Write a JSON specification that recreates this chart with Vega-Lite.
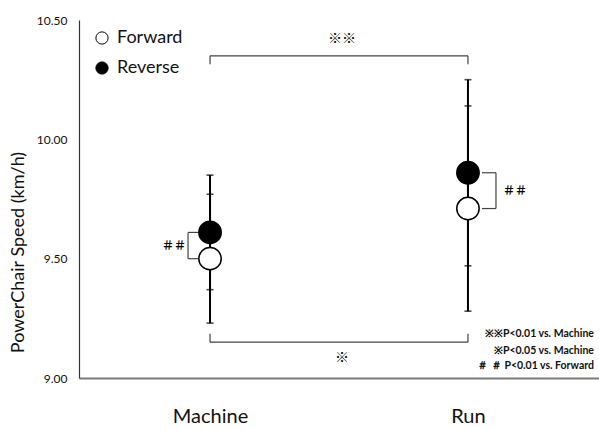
{
  "$schema": "https://vega.github.io/schema/vega-lite/v6.json",
  "width": 520,
  "height": 358,
  "padding": {"left": 79, "top": 20, "right": 0, "bottom": 52},
  "autosize": {"type": "none"},
  "background": "white",
  "config": {"view": {"stroke": null}, "font": "Lato"},
  "datasets": {
    "stats": [
      {"group": "Machine", "series": "Forward", "mean": 9.50, "lo": 9.23, "hi": 9.77},
      {"group": "Machine", "series": "Reverse", "mean": 9.61, "lo": 9.37, "hi": 9.85},
      {"group": "Run", "series": "Forward", "mean": 9.71, "lo": 9.28, "hi": 10.14},
      {"group": "Run", "series": "Reverse", "mean": 9.86, "lo": 9.47, "hi": 10.25}
    ],
    "spans": [
      {"from": "Machine", "to": "Run", "y": 10.35, "tip": 10.315},
      {"from": "Machine", "to": "Run", "y": 9.15, "tip": 9.185}
    ],
    "pairs": [
      {"group": "Machine", "top": 9.61, "bottom": 9.50},
      {"group": "Run", "top": 9.86, "bottom": 9.71}
    ],
    "marks": [
      {"group": "Machine", "y": 10.42, "label": "※※"},
      {"group": "Machine", "y": 9.084, "label": "※"}
    ],
    "sharps": [
      {"group": "Machine", "y": 9.555, "label": "＃＃"},
      {"group": "Run", "y": 9.785, "label": "＃＃"}
    ],
    "notes": [
      {"group": "Run", "y": 9.185, "label": "※※P<0.01 vs. Machine"},
      {"group": "Run", "y": 9.113, "label": "※P<0.05 vs. Machine"},
      {"group": "Run", "y": 9.05, "label": "＃ ＃ P<0.01 vs. Forward"}
    ]
  },
  "encoding": {
    "x": {
      "field": "group", "type": "nominal",
      "scale": {"type": "point", "domain": ["Machine", "Run"], "padding": 0.508},
      "axis": {
        "title": null, "labelAngle": 0, "ticks": false, "labelPadding": 28,
        "labelFontSize": 20, "labelColor": "#111", "labelFont": "Lato",
        "domainColor": "#7a7a7a", "domainWidth": 2
      }
    }
  },
  "layer": [
    {
      "data": {"name": "stats"},
      "mark": {"type": "rule", "color": "black", "strokeWidth": 2},
      "encoding": {
        "y": {
          "field": "lo", "type": "quantitative",
          "scale": {"domain": [9, 10.5], "nice": false, "zero": false},
          "axis": {
            "title": "PowerChair Speed (km/h)", "values": [9, 9.5, 10, 10.5], "format": ".2f",
            "ticks": false, "grid": false, "labelFontSize": 12, "labelColor": "#111",
            "labelPadding": 12, "titleFontSize": 18, "titleFontWeight": "normal",
            "titleColor": "#111", "titleFont": "Lato",
            "titleAngle": 270, "titleX": -61, "titleY": 232, "titleAlign": "center", "titleBaseline": "middle",
            "domainColor": "#333", "domainWidth": 1.2
          }
        },
        "y2": {"field": "hi"}
      }
    },
    {
      "data": {"name": "stats"},
      "mark": {"type": "tick", "color": "black", "size": 7, "thickness": 1.6},
      "encoding": {"y": {"field": "lo", "type": "quantitative"}}
    },
    {
      "data": {"name": "stats"},
      "mark": {"type": "tick", "color": "black", "size": 7, "thickness": 1.6},
      "encoding": {"y": {"field": "hi", "type": "quantitative"}}
    },
    {
      "data": {"name": "stats"},
      "mark": {"type": "point", "shape": "circle", "filled": true, "size": 500, "stroke": "black", "strokeWidth": 1.5, "opacity": 1},
      "encoding": {
        "y": {"field": "mean", "type": "quantitative"},
        "fill": {
          "field": "series", "type": "nominal",
          "scale": {"domain": ["Forward", "Reverse"], "range": ["white", "black"]},
          "legend": {
            "title": null, "orient": "none", "legendX": 14, "legendY": 9,
            "labelFontSize": 18, "labelFont": "Lato", "labelColor": "#111",
            "symbolType": "circle", "symbolSize": 150, "symbolStrokeColor": "black",
            "symbolStrokeWidth": 1, "rowPadding": 12, "labelOffset": 6
          }
        }
      }
    },
    {
      "data": {"name": "spans"},
      "mark": {"type": "rule", "color": "#444", "strokeWidth": 1.2},
      "encoding": {
        "x": {"field": "from", "type": "nominal"},
        "x2": {"field": "to"},
        "y": {"field": "y", "type": "quantitative"}
      }
    },
    {
      "data": {"name": "spans"},
      "mark": {"type": "rule", "color": "#444", "strokeWidth": 1.2},
      "encoding": {
        "x": {"field": "from", "type": "nominal"},
        "y": {"field": "y", "type": "quantitative"},
        "y2": {"field": "tip"}
      }
    },
    {
      "data": {"name": "spans"},
      "mark": {"type": "rule", "color": "#444", "strokeWidth": 1.2},
      "encoding": {
        "x": {"field": "to", "type": "nominal"},
        "y": {"field": "y", "type": "quantitative"},
        "y2": {"field": "tip"}
      }
    },
    {
      "data": {"name": "pairs"},
      "transform": [{"filter": "datum.group == 'Machine'"}],
      "mark": {"type": "rule", "color": "#444", "strokeWidth": 1.2, "xOffset": -22},
      "encoding": {
        "y": {"field": "top", "type": "quantitative"},
        "y2": {"field": "bottom"}
      }
    },
    {
      "data": {"name": "pairs"},
      "transform": [{"filter": "datum.group == 'Machine'"}],
      "mark": {"type": "rule", "color": "#444", "strokeWidth": 1.2, "xOffset": -22, "x2Offset": -12},
      "encoding": {
        "x2": {"field": "group"},
        "y": {"field": "top", "type": "quantitative"}
      }
    },
    {
      "data": {"name": "pairs"},
      "transform": [{"filter": "datum.group == 'Machine'"}],
      "mark": {"type": "rule", "color": "#444", "strokeWidth": 1.2, "xOffset": -22, "x2Offset": -12},
      "encoding": {
        "x2": {"field": "group"},
        "y": {"field": "bottom", "type": "quantitative"}
      }
    },
    {
      "data": {"name": "pairs"},
      "transform": [{"filter": "datum.group == 'Run'"}],
      "mark": {"type": "rule", "color": "#444", "strokeWidth": 1.2, "xOffset": 28},
      "encoding": {
        "y": {"field": "top", "type": "quantitative"},
        "y2": {"field": "bottom"}
      }
    },
    {
      "data": {"name": "pairs"},
      "transform": [{"filter": "datum.group == 'Run'"}],
      "mark": {"type": "rule", "color": "#444", "strokeWidth": 1.2, "xOffset": 14, "x2Offset": 28},
      "encoding": {
        "x2": {"field": "group"},
        "y": {"field": "top", "type": "quantitative"}
      }
    },
    {
      "data": {"name": "pairs"},
      "transform": [{"filter": "datum.group == 'Run'"}],
      "mark": {"type": "rule", "color": "#444", "strokeWidth": 1.2, "xOffset": 14, "x2Offset": 28},
      "encoding": {
        "x2": {"field": "group"},
        "y": {"field": "bottom", "type": "quantitative"}
      }
    },
    {
      "data": {"name": "marks"},
      "mark": {"type": "text", "font": "Noto Sans CJK JP", "fontSize": 14, "fontWeight": "bold", "color": "black", "xOffset": 132, "baseline": "middle"},
      "encoding": {
        "y": {"field": "y", "type": "quantitative"},
        "text": {"field": "label"}
      }
    },
    {
      "data": {"name": "sharps"},
      "transform": [{"filter": "datum.group == 'Machine'"}],
      "mark": {"type": "text", "font": "Noto Sans CJK JP", "fontSize": 12, "fontWeight": "bold", "color": "black", "xOffset": -36, "baseline": "middle"},
      "encoding": {
        "y": {"field": "y", "type": "quantitative"},
        "text": {"field": "label"}
      }
    },
    {
      "data": {"name": "sharps"},
      "transform": [{"filter": "datum.group == 'Run'"}],
      "mark": {"type": "text", "font": "Noto Sans CJK JP", "fontSize": 12, "fontWeight": "bold", "color": "black", "xOffset": 47, "baseline": "middle"},
      "encoding": {
        "y": {"field": "y", "type": "quantitative"},
        "text": {"field": "label"}
      }
    },
    {
      "data": {"name": "notes"},
      "mark": {"type": "text", "font": "Lato", "fontSize": 10.5, "fontWeight": "bold", "color": "#111", "xOffset": 126, "align": "right", "baseline": "middle"},
      "encoding": {
        "y": {"field": "y", "type": "quantitative"},
        "text": {"field": "label"}
      }
    }
  ]
}
